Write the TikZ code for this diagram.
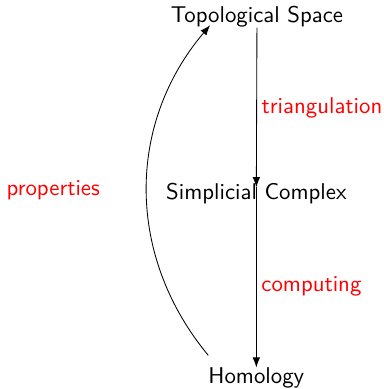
\documentclass[tikz,border=0pt]{standalone}
\usetikzlibrary{arrows.meta,calc,positioning}
\definecolor{hmLabel}{HTML}{FF0000}

\begin{document}
\begin{tikzpicture}[x=1cm,y=1cm,
  font=\sffamily\fontsize{10.8}{13}\selectfont,
  hmspace/.style={inner sep=0pt},
  hmmap/.style={-{Latex},line width=0.4pt},
  hmlabel/.style={text=hmLabel,inner sep=2.2pt}]
  \path[use as bounding box] (0,0) rectangle (6.38,-6.48);

  \node[hmspace] (top) at (4.28,-0.28) {Topological Space};
  \node[hmspace] (simp) at (4.27,-3.23) {Simplicial Complex};
  \node[hmspace] (hom) at (4.27,-6.30) {Homology};

  % the two maps meet inside the middle label
  \coordinate (simpmid) at ($(simp.north)+(0,-0.07)$);
  \draw[hmmap] (top.south) -- (simpmid)
    node[midway,right,hmlabel] {triangulation};
  \draw[hmmap] (simpmid) -- (hom.north)
    node[pos=0.55,right,hmlabel] {computing};

  \coordinate (homfrom) at (3.47,-5.92);
  \coordinate (topto) at (3.50,-0.42);
  \draw[hmmap] (homfrom) to[bend left=40]
    node[midway,left=0.7cm,hmlabel] {properties} (topto);
\end{tikzpicture}
\end{document}
